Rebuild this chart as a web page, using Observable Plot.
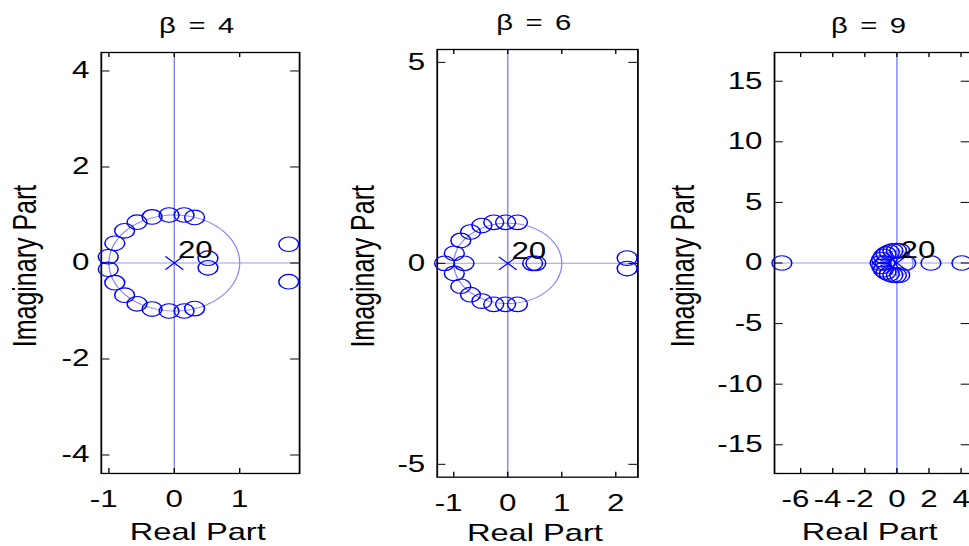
<!DOCTYPE html>
<html><head><meta charset="utf-8">
<script src="https://cdn.jsdelivr.net/npm/d3@7"></script>
<script src="https://cdn.jsdelivr.net/npm/@observablehq/plot@0.6"></script>
<style>
html,body{margin:0;padding:0;background:#fff;overflow:hidden;width:969px;height:546px;}
#fig{position:absolute;left:0;top:0;width:760px;height:546px;transform-origin:0 0;}
</style></head><body><div id="fig"></div>
<script>
// ---- data ----
const titles = ["β = 4", "β = 6", "β = 9"];
const xLabel = "Real Part";
const yLabel = "Imaginary Part";
const poleOrder = "20";

const zerosRe1 = [-1.01, -1.01, -0.91, -0.91, -0.76, -0.76, -0.57, -0.57, -0.34, -0.34, -0.08, -0.08, 0.15, 0.15, 0.31, 0.31, 0.515, 0.515, 1.75, 1.75];
const zerosIm1 = [0.13, -0.13, 0.41, -0.41, 0.67, -0.67, 0.85, -0.85, 0.96, -0.96, 1.0, -1.0, 1.0, -1.0, 0.95, -0.95, 0.1, -0.1, 0.39, -0.39];

const zerosRe2 = [-1.17, -0.99, -0.99, -0.81, -0.87, -0.87, -0.69, -0.69, -0.48, -0.48, -0.26, -0.26, -0.04, -0.04, 0.18, 0.18, 0.46, 0.52, 2.21, 2.21];
const zerosIm2 = [0, 0.25, -0.25, 0, 0.57, -0.57, 0.78, -0.78, 0.94, -0.94, 1.02, -1.02, 1.02, -1.02, 1.02, -1.02, 0, 0, 0.13, -0.13];

const zerosRe3 = [-7.17, -1.05, -0.95, -0.95, -0.75, -0.85, -0.85, -0.68, -0.68, -0.47, -0.47, -0.25, -0.25, -0.03, -0.03, 0.18, 0.18, 0.55, 2.12, 4.05];
const zerosIm3 = [0, 0, 0.28, -0.28, 0, 0.55, -0.55, 0.75, -0.75, 0.9, -0.9, 1.0, -1.0, 1.02, -1.02, 1.0, -1.0, 0, 0, 0];

const xTicks1 = [-1, 0, 1];
const yTicks1 = [-4, -2, 0, 2, 4];
const xTicks2 = [-1, 0, 1, 2];
const yTicks2 = [-5, 0, 5];
const xTicks3 = [-6, -4, -2, 0, 2, 4];
const yTicks3 = [-15, -10, -5, 0, 5, 10, 15];

const xDomains = [[-1.116, 1.916], [-1.306, 2.41], [-7.63, 4.57]];
const yDomains = [[-4.385, 4.385], [-5.32, 5.32], [-17.37, 17.37]];

// ---- layout (final page pixels; figure is stretched horizontally like the original) ----
const S = 1.36;
const FONT = "'Liberation Sans', Arial, Helvetica, sans-serif";
const boxes = [[100, 298.3, 52.3, 473.3], [436, 636.7, 49, 476.7], [774.3, 970, 52.3, 473.3]];
const yLabelOffsets = [65, 63.5, 81];
const xLabelDy = [66.5, 63.5, 66.5];

const panels = [
  {title: titles[0], re: zerosRe1, im: zerosIm1, xt: xTicks1, yt: yTicks1},
  {title: titles[1], re: zerosRe2, im: zerosIm2, xt: xTicks2, yt: yTicks2},
  {title: titles[2], re: zerosRe3, im: zerosIm3, xt: xTicks3, yt: yTicks3}
];

const unitCircle = d3.range(0, 361, 3).map(a => ({x: Math.cos(a * Math.PI / 180), y: Math.sin(a * Math.PI / 180)}));

const fig = document.getElementById("fig");
fig.style.transform = `scaleX(${S})`;

panels.forEach((p, i) => {
  const [bl, br, bt, bb] = boxes[i];
  const fl = bl / S, fr = br / S;
  const fw = fr - fl, fh = bb - bt;
  const m = {left: 80, right: 14, top: 60, bottom: 80};
  const zeros = p.re.map((r, k) => ({re: r, im: p.im[k]}));
  const neg = p.xt.filter(d => d < 0), nonneg = p.xt.filter(d => d >= 0);
  const svg = Plot.plot({
    width: fw + m.left + m.right,
    height: fh + m.top + m.bottom,
    marginLeft: m.left, marginRight: m.right, marginTop: m.top, marginBottom: m.bottom,
    x: {domain: xDomains[i], axis: null},
    y: {domain: yDomains[i], axis: null},
    style: {fontFamily: FONT, background: "transparent", overflow: "visible", color: "black"},
    marks: [
      Plot.ruleY([0], {stroke: "#9a9aff", strokeWidth: 1}),
      Plot.ruleX([0], {stroke: "#8080ff", strokeWidth: 1}),
      Plot.line(unitCircle, {x: "x", y: "y", stroke: "#8080ff", strokeWidth: 0.9}),
      Plot.tickX(p.xt, {x: d => d, insetBottom: fh - 5, stroke: "black", strokeWidth: 1}),
      Plot.tickX(p.xt, {x: d => d, insetTop: fh - 5, stroke: "black", strokeWidth: 1}),
      Plot.tickY(p.yt, {y: d => d, insetRight: fw - 6.5, stroke: "black", strokeWidth: 1}),
      Plot.tickY(p.yt, {y: d => d, insetLeft: fw - 6.5, stroke: "black", strokeWidth: 1}),
      Plot.frame({stroke: "black", strokeWidth: 1.3}),
      Plot.dot(zeros, {x: "re", y: "im", r: 7.3, stroke: "#0000ff", fill: "none", strokeWidth: 1.1}),
      Plot.dot([{re: 0, im: 0}], {x: "re", y: "im", symbol: "times", r: 6, stroke: "#0000ff", strokeWidth: 1.1}),
      Plot.text([{re: 0, im: 0}], {x: "re", y: "im", text: () => poleOrder, dx: 2.7, dy: -4.5, textAnchor: "start", lineAnchor: "bottom", fontSize: 23, fill: "black"}),
      Plot.text(neg, {x: d => d, text: d => String(d), frameAnchor: "bottom", dx: -3.8, dy: 33.5, lineAnchor: "bottom", fontSize: 23, fill: "black"}),
      Plot.text(nonneg, {x: d => d, text: d => String(d), frameAnchor: "bottom", dy: 33.5, lineAnchor: "bottom", fontSize: 23, fill: "black"}),
      Plot.text(p.yt, {y: d => d, text: d => String(d), frameAnchor: "left", dx: -12 / S, textAnchor: "end", lineAnchor: "middle", fontSize: 23, fill: "black"}),
      Plot.text([p.title], {text: d => d, frameAnchor: "top", dx: -2, dy: -19, lineAnchor: "bottom", fontSize: 21.5, fill: "black"}),
      Plot.text([xLabel], {text: d => d, frameAnchor: "bottom", dx: -2, dy: xLabelDy[i], lineAnchor: "bottom", fontSize: 24, fill: "black"}),
      Plot.text([yLabel], {text: d => d, frameAnchor: "left", rotate: -90, dx: -yLabelOffsets[i] / S, dy: 3, textAnchor: "middle", lineAnchor: "bottom", fontSize: 25, fill: "black"})
    ]
  });
  d3.select(svg).selectAll("text").filter(function() { return this.textContent.startsWith("β"); }).style("letter-spacing", "1.6px");
  svg.style.position = "absolute";
  svg.style.left = (fl - m.left) + "px";
  svg.style.top = (bt - m.top) + "px";
  fig.appendChild(svg);
});
</script></body></html>
